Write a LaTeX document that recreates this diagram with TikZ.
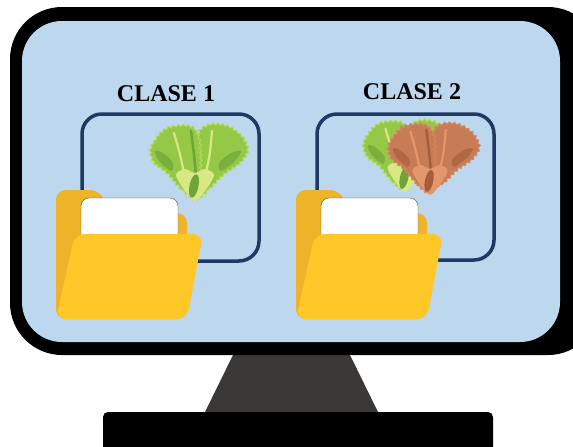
\documentclass[tikz,border=0pt]{standalone}
\usepackage{fontspec}
\setmainfont{Liberation Serif}
\usepackage{tikz}
\usetikzlibrary{decorations.pathmorphing}
\usepackage{color}
\definecolor{screenblue}{RGB}{189, 215, 238}
\definecolor{framenavy}{RGB}{31, 56, 100}
\definecolor{standgray}{RGB}{59, 57, 56}
\definecolor{folderfront}{RGB}{255, 199, 39}
\definecolor{folderback}{RGB}{239, 179, 42}
\definecolor{leafgreen}{RGB}{150, 200, 72}
\definecolor{leafshade}{RGB}{110, 164, 56}
\definecolor{leafedge}{RGB}{178, 220, 84}
\definecolor{ribgreen}{RGB}{216, 232, 130}
\definecolor{leafbrown}{RGB}{200, 124, 86}
\definecolor{leafbrowndark}{RGB}{164, 94, 60}
\definecolor{leafbrownedge}{RGB}{212, 136, 96}
\definecolor{ribbrown}{RGB}{228, 150, 108}

\tikzset{
  classframe/.style={draw=framenavy, line width=3.5pt, rounded corners=20pt},
  classtitle/.style={font=\fontsize{24}{28}\selectfont\bfseries, inner sep=0pt},
  ruffled/.style={decorate, decoration={snake, amplitude=1.1pt, segment length=5pt}},
  rib/.style={line width=2.2pt, line cap=round},
  % #1 leaf, #2 shade, #3 rib, #4 edge
  pics/lettuce/.style n args={4}{code={
      \filldraw[fill=#1, draw=#4, line width=1pt, ruffled] plot[smooth cycle] coordinates
          {(0,0) (14,-10) (28,-24) (44,-35) (52,-48) (46,-62) (32,-72) (16,-74) (4,-68) (0,-50) (2,-20)};
      \filldraw[fill=#1, draw=#4, line width=1pt, ruffled] plot[smooth cycle] coordinates
          {(0,0) (-14,-10) (-28,-26) (-40,-35) (-44,-48) (-38,-60) (-28,-70) (-12,-73) (0,-70) (6,-55) (6,-25)};
      % shadows on the leaves
      \fill[#2!70!#1] plot[smooth cycle] coordinates {(-24,-28) (-36,-38) (-40,-48) (-32,-46) (-22,-36)};
      \fill[#2!70!#1] plot[smooth cycle] coordinates {(26,-28) (40,-38) (46,-48) (36,-46) (24,-36)};
      \draw[#2, line width=2.5pt, line cap=round] (1,-24) .. controls (-1,-45) .. (-4,-68);
      % stem
      \fill[#3] plot[smooth cycle] coordinates {(0,2) (-10,-8) (-19,-24) (-10,-30) (0,-26) (10,-30) (19,-24) (10,-8)};
      \fill[#2, rotate around={-12:(-1,-13)}] (-1,-13) ellipse (4.5 and 12);
      \draw[#3, rib] (-11,-26) .. controls (-15,-45) .. (-21,-66);
      \draw[#3, rib] (11,-26) .. controls (15,-45) .. (17,-68);
  }},
  pics/folder/.style={code={
      \fill[folderback, rounded corners=10pt] (0,0) -- (0,-129) -- (44,-129) -- (54,-106)
           -- (131,-106) -- (131,0) -- cycle;
      \filldraw[fill=white, draw=black!70, rounded corners=8pt] (25,-121) rectangle (122,-40);
      \fill[folderfront, rounded corners=10pt] (19,-85) -- (147,-85) -- (131,0) -- (0,0) -- cycle;
  }}
}

\begin{document}
\begin{tikzpicture}[x=1pt, y=-1pt]
  \useasboundingbox (0,0) rectangle (573,447);
  \clip (0,0) rectangle (573,447);

  % stand and screen
  \fill[standgray]                       (233,355) -- (350,355) -- (378,412) -- (205,412) -- cycle;
  \fill[black, rounded corners=5pt]      (103,412) rectangle (493,460);
  \fill[black, rounded corners=52pt]     ( 10,  7) rectangle (600,355);
  \fill[screenblue, rounded corners=40pt]( 22, 21) rectangle (560,342);

  % first class
  \node[classtitle] (title1) at (166,94) {CLASE 1};
  \draw[classframe] (82,114) rectangle (259,261);
  \pic at (195,199) {lettuce={leafgreen}{leafshade}{ribgreen}{leafedge}};
  \pic at (56,319)  {folder};

  % second class
  \node[classtitle] (title2) at (412,92) {CLASE 2};
  \draw[classframe] (317,114) rectangle (494,260);
  \pic[scale=0.93] at (405,190) {lettuce={leafgreen}{leafshade}{ribgreen}{leafedge}};
  \pic[scale=0.93] at (430,193) {lettuce={leafbrown}{leafbrowndark}{ribbrown}{leafbrownedge}};
  \pic at (296,319) {folder};
\end{tikzpicture}
\end{document}
